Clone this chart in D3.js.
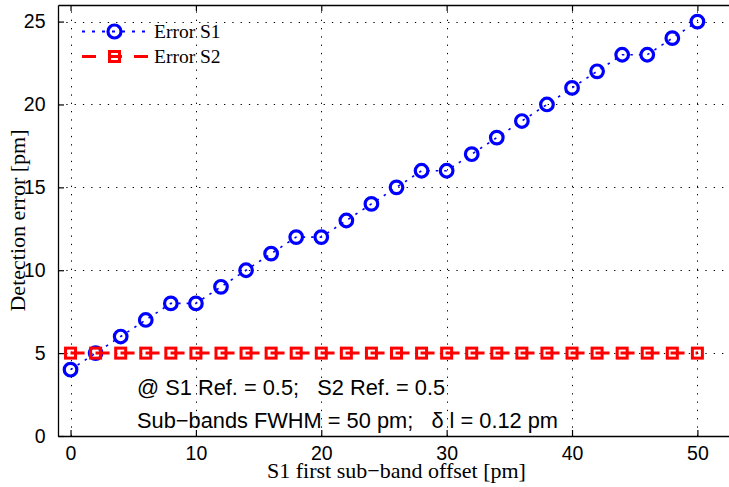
<!DOCTYPE html>
<html>
<head>
<meta charset="utf-8">
<script src="https://cdn.jsdelivr.net/npm/d3@7"></script>
<style>
html,body{margin:0;padding:0;background:#fff;overflow:hidden;}
svg{display:block;}
</style>
</head>
<body>
<svg id="chart" width="729" height="487"></svg>
<script>
const offsets = [0,2,4,6,8,10,12,14,16,18,20,22,24,26,28,30,32,34,36,38,40,42,44,46,48,50];
const errorS1 = [4,5,6,7,8,8,9,10,11,12,12,13,14,15,16,16,17,18,19,20,21,22,23,23,24,25];
const errorS2 = [5,5,5,5,5,5,5,5,5,5,5,5,5,5,5,5,5,5,5,5,5,5,5,5,5,5];
const xTicks = [0,10,20,30,40,50];
const yTicks = [0,5,10,15,20,25];
const seriesNames = ["Error S1","Error S2"];
const annotations = ["@ S1 Ref. = 0.5;   S2 Ref. = 0.5", "Sub\u2212bands FWHM = 50 pm;   \u03B4 l = 0.12 pm"];

const svg = d3.select("#chart");
const L = 58, R = 735, T = 5, B = 436;
const x = d3.scaleLinear().domain([-1,53]).range([L,R]);
const y = d3.scaleLinear().domain([0,26]).range([B,T]);

// grid
const grid = svg.append("g").attr("stroke","#000").attr("stroke-width",1).attr("stroke-dasharray","1.3,7");
grid.selectAll(".gx").data(xTicks).join("line")
  .attr("x1",d=>Math.round(x(d))+0.5).attr("x2",d=>Math.round(x(d))+0.5)
  .attr("y1",B).attr("y2",T);
grid.selectAll(".gy").data(yTicks.filter(d=>d>0)).join("line")
  .attr("y1",d=>Math.round(y(d))+0.5).attr("y2",d=>Math.round(y(d))+0.5)
  .attr("x1",L).attr("x2",R);

// axes
const tickFont = "'Liberation Sans', Arial, sans-serif";
const xAxisB = d3.axisBottom(x).tickValues(xTicks).tickSizeInner(-6).tickSizeOuter(0).tickPadding(10);
const gxb = svg.append("g").attr("transform",`translate(0,${B})`).call(xAxisB);
const xAxisT = d3.axisTop(x).tickValues(xTicks).tickSizeInner(-6).tickSizeOuter(0).tickFormat("");
const gxt = svg.append("g").attr("transform",`translate(0,${T})`).call(xAxisT);
const yAxisL = d3.axisLeft(y).tickValues(yTicks).tickSizeInner(-6).tickSizeOuter(0).tickPadding(12);
const gyl = svg.append("g").attr("transform",`translate(${L},0)`).call(yAxisL);
[gxb,gxt,gyl].forEach(g=>{
  g.select(".domain").attr("stroke","#000").attr("stroke-width",1.3);
  g.selectAll(".tick line").attr("stroke","#000").attr("stroke-width",1.2);
  g.selectAll(".tick text").attr("font-family",tickFont).attr("font-size",19.5).attr("fill","#000");
});
gyl.selectAll(".tick text").attr("dx","-0.5");

// S1
const line = d3.line().x((d,i)=>x(offsets[i])).y(d=>y(d));
svg.append("path").datum(errorS1).attr("d",line)
  .attr("fill","none").attr("stroke","#0000ff").attr("stroke-width",1.6).attr("stroke-dasharray","2.5,6");
svg.append("g").selectAll("circle").data(errorS1).join("circle")
  .attr("cx",(d,i)=>x(offsets[i])).attr("cy",d=>y(d)).attr("r",6.3)
  .attr("fill","none").attr("stroke","#0000ff").attr("stroke-width",3.2);

// S2
svg.append("path").datum(errorS2).attr("d",line)
  .attr("fill","none").attr("stroke","#ff0000").attr("stroke-width",3).attr("stroke-dasharray","14,11");
const sq = 10;
svg.append("g").selectAll("rect").data(errorS2).join("rect")
  .attr("x",(d,i)=>x(offsets[i])-sq/2).attr("y",d=>y(d)-sq/2).attr("width",sq).attr("height",sq)
  .attr("fill","none").attr("stroke","#ff0000").attr("stroke-width",3);

// legend
const serif = "'Liberation Serif', 'Times New Roman', serif";
const lg = svg.append("g");
const lx1 = 82, lx2 = 148, lmx = 114.5;
const ly = [31.5, 56.5];
lg.append("line").attr("x1",lx1).attr("x2",lx2).attr("y1",ly[0]).attr("y2",ly[0])
  .attr("stroke","#0000ff").attr("stroke-width",2).attr("stroke-dasharray","3,7");
lg.append("circle").attr("cx",lmx).attr("cy",ly[0]).attr("r",6.5)
  .attr("fill","none").attr("stroke","#0000ff").attr("stroke-width",3.2);
lg.append("line").attr("x1",lx1).attr("x2",lx2).attr("y1",ly[1]).attr("y2",ly[1])
  .attr("stroke","#ff0000").attr("stroke-width",3).attr("stroke-dasharray","14,12");
lg.append("rect").attr("x",lmx-sq/2).attr("y",ly[1]-sq/2).attr("width",sq).attr("height",sq)
  .attr("fill","none").attr("stroke","#ff0000").attr("stroke-width",3);
lg.selectAll("text").data(seriesNames).join("text")
  .attr("x",154).attr("y",(d,i)=>ly[i]+6.5)
  .attr("font-family",serif).attr("font-size",19.5).attr("fill","#000").text(d=>d);

// annotations
svg.selectAll(".ann").data(annotations).join("text").attr("class","ann")
  .attr("x",137).attr("y",(d,i)=>[395,428][i])
  .attr("font-family",tickFont).attr("font-size",21.8).attr("fill","#000")
  .attr("xml:space","preserve").style("white-space","pre").text(d=>d);

// axis labels
svg.append("text").attr("x",(L+R)/2).attr("y",478).attr("text-anchor","middle")
  .attr("font-family",serif).attr("font-size",22).attr("fill","#000")
  .text("S1 first sub\u2212band offset [pm]");
svg.append("text").attr("transform",`translate(25,${(T+B)/2}) rotate(-90)`).attr("text-anchor","middle")
  .attr("font-family",serif).attr("font-size",22).attr("fill","#000")
  .text("Detection error [pm]");
</script>
</body>
</html>
